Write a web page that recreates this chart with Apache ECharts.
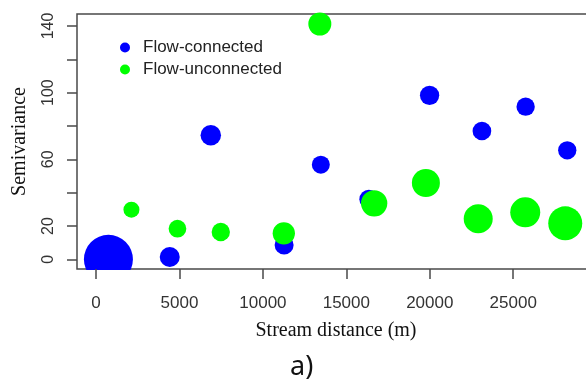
<!DOCTYPE html>
<html>
<head>
<meta charset="utf-8">
<script src="https://cdn.jsdelivr.net/npm/echarts@6/dist/echarts.min.js"></script>
<style>
html,body{margin:0;padding:0;background:#fff;}
#c{width:586px;height:381px;}
</style>
</head>
<body>
<div id="c"></div>
<script>
// Flow-connected: stream distance (m), semivariance, relative weight (bubble size)
const connectedX = [743, 4418, 6877, 11271, 13471, 16349, 19988, 23124, 25743, 28237];
const connectedY = [0, 1.4, 74.4, 8.6, 56.8, 36, 98.4, 77, 91.6, 65.4];
const connectedW = [49, 20, 20.5, 19, 18, 19, 19.3, 18.7, 18.3, 18.3];
// Flow-unconnected
const unconnectedX = [2122, 4880, 7476, 11253, 13411, 16667, 19766, 22902, 25720, 28117];
const unconnectedY = [29.8, 18.4, 16.4, 15.6, 141.2, 33.6, 45.8, 24.4, 28.2, 21.6];
const unconnectedW = [16, 17.7, 18.3, 22.3, 23, 26.3, 28, 29, 30, 34];
const xTicks = [0, 5000, 10000, 15000, 20000, 25000];
const yTicks = [0, 20, 40, 60, 80, 100, 120, 140];
const yLabels = [0, 20, 60, 100, 140];
const seriesNames = ['Flow-connected', 'Flow-unconnected'];

const toData = (xs, ys, ws) => xs.map((x, i) => [x, ys[i], ws[i]]);

const chart = echarts.init(document.getElementById('c'));
const sans = 'Liberation Sans, Arial, sans-serif';
const serif = 'Liberation Serif, Times New Roman, serif';
chart.setOption({
  animation: false,
  backgroundColor: '#fff',
  grid: {left: 77, top: 14, width: 518, height: 255, outerBoundsMode: 'none', containLabel: false,
         show: true, borderColor: '#4a4a4a', borderWidth: 1.5, backgroundColor: 'transparent'},
  legend: {
    orient: 'vertical', left: 115, top: 34, itemWidth: 10, itemHeight: 10, itemGap: 5,
    icon: 'circle',
    data: seriesNames,
    textStyle: {fontFamily: sans, fontSize: 17, color: '#222', padding: [0, 0, 0, 8]}
  },
  xAxis: {
    type: 'value', min: -1140, max: 29900, z: 10,
    name: 'Stream distance (m)', nameLocation: 'middle', nameGap: 52,
    nameTextStyle: {fontFamily: serif, fontSize: 20, color: '#111'},
    splitLine: {show: false},
    axisLine: {show: false, onZero: false},
    axisTick: {show: true, length: 10, lineStyle: {color: '#4a4a4a', width: 1.5}, customValues: xTicks},
    axisLabel: {fontFamily: sans, fontSize: 17, color: '#333', margin: 26, customValues: xTicks,
                formatter: v => String(v)}
  },
  yAxis: {
    type: 'value', min: -5.8, max: 147.2, z: 10,
    name: 'Semivariance', nameLocation: 'middle', nameGap: 47,
    nameTextStyle: {fontFamily: serif, fontSize: 20, color: '#111'},
    splitLine: {show: false},
    axisLine: {show: false, onZero: false},
    axisTick: {show: true, length: 10, lineStyle: {color: '#4a4a4a', width: 1.5}, customValues: yTicks},
    axisLabel: {fontFamily: sans, fontSize: 16, color: '#333', margin: 20, rotate: 90, customValues: yLabels,
                formatter: v => String(v)}
  },
  graphic: [
    {type: 'rect', z: 5, shape: {x: 60, y: 270, width: 540, height: 20}, style: {fill: '#fff'}},
    {type: 'text', left: 290, top: 354, z: 10, style: {text: 'a)', fontFamily: 'Noto Sans, sans-serif', fontSize: 27, fill: '#111'}}
  ],
  series: [
    {name: seriesNames[0], type: 'scatter', z: 2, data: toData(connectedX, connectedY, connectedW),
     symbolSize: d => d[2], itemStyle: {color: '#0000ff', opacity: 1}},
    {name: seriesNames[1], type: 'scatter', z: 3, data: toData(unconnectedX, unconnectedY, unconnectedW),
     symbolSize: d => d[2], itemStyle: {color: '#00ff00', opacity: 1}}
  ]
});
</script>
</body>
</html>
